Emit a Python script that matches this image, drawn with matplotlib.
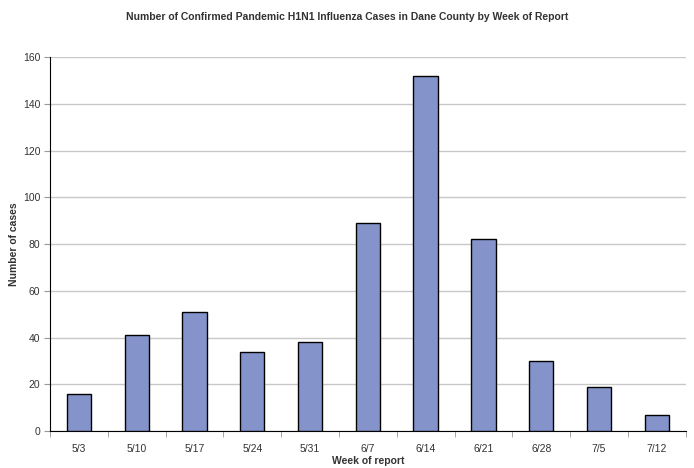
import numpy as np
import matplotlib.pyplot as plt

plt.rcParams['font.family'] = ['Liberation Sans', 'DejaVu Sans']

weeks = ['5/3', '5/10', '5/17', '5/24', '5/31', '6/7', '6/14', '6/21', '6/28', '7/5', '7/12']
cases = [16, 41, 51, 34, 38, 89, 152, 82, 30, 19, 7]

txt = '#333333'

fig = plt.figure(figsize=(6.94, 4.68), dpi=100)
ax = fig.add_axes([0.072, 0.079, 0.916, 0.799])

x = np.arange(len(weeks))
ax.bar(x, cases, width=0.42, color='#8593CB', edgecolor='black', linewidth=1.0, zorder=3)

ax.set_xlim(-0.5, len(weeks) - 0.5)
ax.set_ylim(0, 160)
ax.set_yticks(range(0, 161, 20))
ax.set_xticks(x)
ax.set_xticklabels(weeks)
ax.set_xticks(np.arange(-0.5, len(weeks), 1), minor=True)
ax.tick_params(axis='x', which='major', length=0, pad=9, labelsize=7.5, labelcolor=txt)
ax.tick_params(axis='x', which='minor', length=4, direction='out', color='#999999')
ax.tick_params(axis='y', length=4, labelsize=7.5, pad=3, color='#999999', labelcolor=txt)
ax.yaxis.grid(True, color='#c8c8c8', linewidth=1.0, zorder=0)

for s in ['top', 'right']:
    ax.spines[s].set_visible(False)
ax.spines['left'].set_color('black')
ax.spines['bottom'].set_color('black')

ax.set_xlabel('Week of report', fontsize=7.5, fontweight='bold', labelpad=2, color=txt)
ax.set_ylabel('Number of cases', fontsize=7.5, fontweight='bold', labelpad=3, color=txt)
fig.suptitle('Number of Confirmed Pandemic H1N1 Influenza Cases in Dane County by Week of Report',
             fontsize=7.5, fontweight='bold', y=0.975, color=txt)

fig.savefig('out.png', dpi=100)
